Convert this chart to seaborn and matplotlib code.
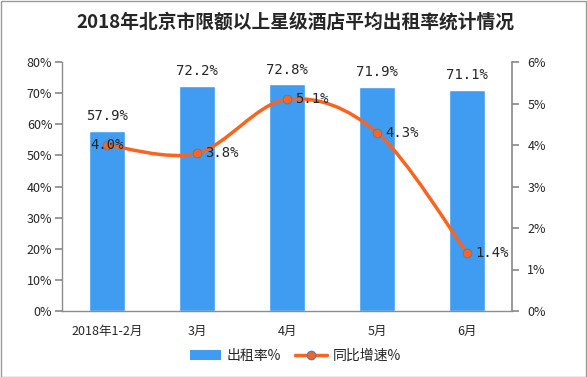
import numpy as np
import pandas as pd
import matplotlib
matplotlib.use("Agg")
import matplotlib.pyplot as plt
import seaborn as sns
from matplotlib.path import Path
from matplotlib.patches import PathPatch, Patch, Rectangle
from matplotlib.lines import Line2D

# data
months = ["2018年1-2月", "3月", "4月", "5月", "6月"]
occupancy = [57.9, 72.2, 72.8, 71.9, 71.1]
growth = [4.0, 3.8, 5.1, 4.3, 1.4]

barColor = "#3f9cf0"
lineColor = "#fa6420"
gridColor = "#8c8c8c"

sns.set_theme(style="white")
plt.rcParams['font.family'] = ['Noto Sans CJK SC', 'DejaVu Sans']
plt.rcParams['axes.unicode_minus'] = False

df = pd.DataFrame({"月份": months, "出租率": occupancy, "增速": growth})

fig = plt.figure(figsize=(5.87, 3.77), dpi=100)
ax = fig.add_axes([62/587, 1-311/377, (512-62)/587, (311-62)/377])

sns.barplot(data=df, x="月份", y="出租率", color=barColor, width=0.4,
            saturation=1, ax=ax)
ax.set_xlim(-0.5, 4.5)
ax.set_ylim(0, 80)
ax.set_yticks(np.arange(0, 81, 10))
ax.set_yticklabels([f"{v}%" for v in range(0, 81, 10)], fontsize=9)
ax.set_xlabel("")
ax.set_ylabel("")

# x ticks at category boundaries, labels at centres
ax.set_xticks(np.arange(-0.5, 5, 1))
ax.set_xticklabels([])
ax.set_xticks(np.arange(5), minor=True)
ax.set_xticklabels(months, minor=True, fontsize=9)
ax.tick_params(axis="x", which="major", length=5, color=gridColor, direction="out")
ax.tick_params(axis="x", which="minor", length=0, pad=10)
ax.tick_params(axis="y", length=5, color=gridColor, direction="out", left=True, pad=2)

for s in ["top", "right"]:
    ax.spines[s].set_visible(False)
for s in ["left", "bottom"]:
    ax.spines[s].set_color(gridColor)
    ax.spines[s].set_linewidth(1)

for i, v in enumerate(occupancy):
    ax.text(i, v + 2.5, f"{v:.1f}%", ha="center", va="bottom", fontsize=10,
            family=["DejaVu Sans Mono"])

ax2 = ax.twinx()
ax2.set_ylim(0, 6)
ax2.set_yticks(np.arange(0, 7, 1))
ax2.set_yticklabels([f"{v}%" for v in range(0, 7)], fontsize=9)
ax2.tick_params(axis="y", length=5, color=gridColor, direction="out", right=True, pad=6)
for s in ["top", "left", "bottom"]:
    ax2.spines[s].set_visible(False)
ax2.spines["right"].set_color(gridColor)

# smoothed growth curve (Catmull-Rom as cubic bezier)
xs = np.arange(len(growth), dtype=float)
ys = np.array(growth, dtype=float)
pts = np.column_stack([xs, ys])
verts = [pts[0]]
codes = [Path.MOVETO]
for i in range(len(pts) - 1):
    p0 = pts[max(i - 1, 0)]
    p1 = pts[i]
    p2 = pts[i + 1]
    p3 = pts[min(i + 2, len(pts) - 1)]
    c1 = p1 + (p2 - p0) / 6
    c2 = p2 - (p3 - p1) / 6
    verts += [c1, c2, p2]
    codes += [Path.CURVE4] * 3
ax2.add_patch(PathPatch(Path(verts, codes), facecolor="none",
                        edgecolor=lineColor, lw=2.5, zorder=3))
sns.scatterplot(x=xs, y=ys, ax=ax2, color=lineColor, s=40,
                edgecolor="#5a7fa8", linewidth=0.8, zorder=4)

for i, v in enumerate(growth):
    if i == 0:
        ax2.text(i, v, f"{v:.1f}%", ha="center", va="center", fontsize=10,
                 family=["DejaVu Sans Mono"], zorder=5)
    else:
        ax2.text(i + 0.09, v, f"{v:.1f}%", ha="left", va="center", fontsize=10,
                 family=["DejaVu Sans Mono"], zorder=5)

handles = [Patch(facecolor=barColor, edgecolor="none"),
           Line2D([0], [0], color=lineColor, lw=2.5, marker="o", markersize=6,
                  markerfacecolor=lineColor, markeredgecolor="#5a7fa8")]
fig.legend(handles, ["出租率%", "同比增速%"], loc="center", bbox_to_anchor=(0.503, 1-356/377),
           ncol=2, frameon=False, fontsize=10, handlelength=2.3, columnspacing=1.0,
           handletextpad=0.4)

fig.text(0.503, 1-22/377, "2018年北京市限额以上星级酒店平均出租率统计情况",
         ha="center", va="center", fontsize=13.5, fontweight="bold")

fig.patches.append(Rectangle((0.001, 0.001), 0.997, 0.997, transform=fig.transFigure,
                             fill=False, edgecolor="#9a9a9a", lw=1))

fig.savefig("out.png", dpi=100)
